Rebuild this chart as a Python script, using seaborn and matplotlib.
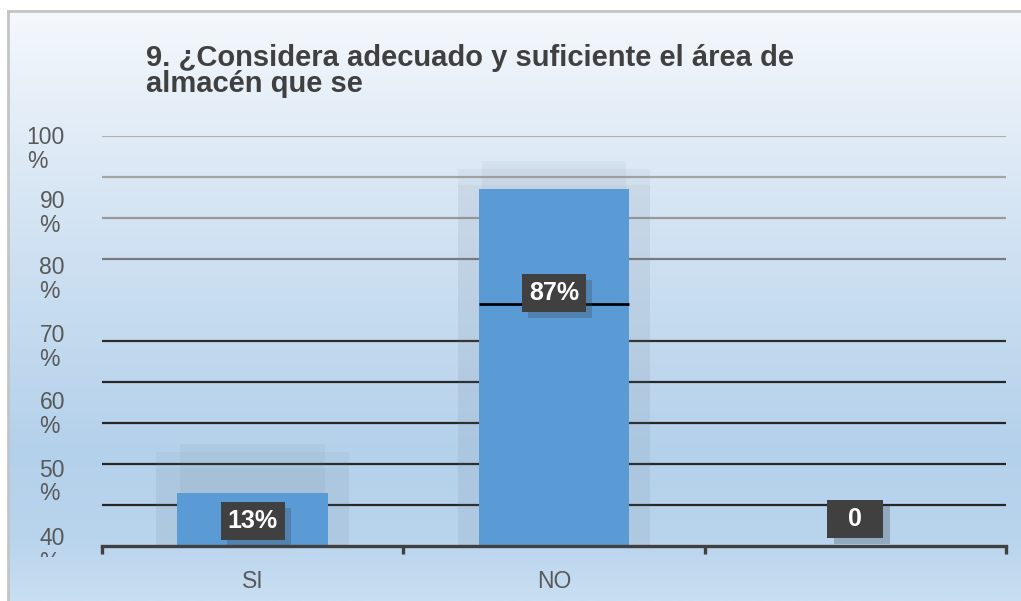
import numpy as np
import pandas as pd
import matplotlib
matplotlib.use("Agg")
import matplotlib.pyplot as plt
import matplotlib.transforms as mtransforms
import matplotlib.patheffects as pe
from matplotlib.transforms import Bbox
import seaborn as sns

# ---- data ----
categories = ["SI", "NO", ""]
values = [13, 87, 0]
value_labels = ["13%", "87%", "0"]
ytick_texts = ["100\n%", "90\n%", "80\n%", "70\n%", "60\n%", "50\n%", "40\n%"]
title = "9. ¿Considera adecuado y suficiente el área de\nalmacén que se"

sns.set_theme(style="white")
plt.rcParams["font.family"] = ["Liberation Sans", "DejaVu Sans"]

W, H = 1021, 601
fig = plt.figure(figsize=(W / 100, H / 100), dpi=100, facecolor="white")

# ---- background gradient panel ----
bg = fig.add_axes([8 / W, 0, 1 - 8 / W, (H - 11) / H], zorder=0)
stops_y = np.array([11, 100, 250, 450, 540, 601])
stops_c = np.array([(245, 248, 252), (230, 239, 248), (207, 225, 242),
                    (180, 209, 235), (185, 212, 237), (201, 223, 242)]) / 255
ys = np.linspace(11, 601, 300)
grad = np.stack([np.interp(ys, stops_y, stops_c[:, k]) for k in range(3)], axis=-1)
bg.imshow(grad[:, None, :], aspect="auto", extent=[0, 1, 0, 1], origin="upper")
bg.set_xlim(0, 1); bg.set_ylim(0, 1)
bg.set_xticks([]); bg.set_yticks([])
for s in ["right", "bottom"]:
    bg.spines[s].set_visible(False)
for s in ["left", "top"]:
    bg.spines[s].set_color("#c4c4c4")
    bg.spines[s].set_linewidth(2)

# ---- main axes ----
ax = fig.add_axes([102 / W, (H - 546) / H, 904 / W, 410 / H], zorder=1)
ax.set_facecolor("none")

# gridlines
grid_vals = [100, 90, 80, 70, 50, 40, 30, 20, 10]
grid_cols = ["#b0b0b0", "#a4a4a4", "#9a9a9a", "#7a7a7a", "#2e2e2e",
             "#262626", "#262626", "#262626", "#262626"]
for gv, gc in zip(grid_vals, grid_cols):
    ax.axhline(gv, color=gc, lw=1.6, zorder=0.5)

# soft shadows behind bars
xpos = np.arange(len(categories))
for x, v in zip(xpos, values):
    if v > 0:
        ext = 12 if v < 50 else 7
        ax.bar(x, v + ext, width=0.64, bottom=-2, color="#6f7f90", alpha=0.07,
               zorder=0.8, linewidth=0)
        ax.bar(x, v + ext, width=0.48, bottom=0, color="#6f7f90", alpha=0.08,
               zorder=0.8, linewidth=0)
        ax.bar(x, v + ext - 6, width=0.64, bottom=0, color="#6f7f90", alpha=0.06,
               zorder=0.8, linewidth=0)

df = pd.DataFrame({"cat": categories, "val": values})
sns.barplot(data=df, x="cat", y="val", color="#5B9BD5", saturation=1,
            width=0.5, ax=ax, zorder=2, linewidth=0, edgecolor="none")
ax.set_xlim(-0.5, len(categories) - 0.5)
ax.set_ylim(0, 100)

# stray line across the tall bar
imax = int(np.argmax(values))
ax.hlines(59, imax - 0.25, imax + 0.25, color="black", lw=2, zorder=3)

# data labels
label_y = [6.1, 61.8, 6.6]
for x, lab, ly in zip(xpos, value_labels, label_y):
    txt = lab if len(lab) > 1 else "  " + lab + "  "
    t = ax.text(x, ly, txt, ha="center", va="center", fontsize=18, fontweight="bold",
                color="white", zorder=4,
                bbox=dict(boxstyle="square,pad=0.28", facecolor="#404040", edgecolor="none"))
    t.get_bbox_patch().set_path_effects([
        pe.SimplePatchShadow(offset=(4.5, -4.5), shadow_rgbFace="#3a4a5a", alpha=0.3),
        pe.Normal()])

# x axis
sns.despine(ax=ax, left=True, top=True, right=True)
ax.spines["bottom"].set_color("#404040")
ax.spines["bottom"].set_linewidth(2.4)
ax.spines["bottom"].set_zorder(5)
ax.set_xticks(xpos)
ax.set_xticklabels(categories, fontsize=16.5, color="#595959")
ax.set_xticks(np.arange(len(categories) + 1) - 0.5, minor=True)
ax.tick_params(axis="x", which="major", length=0, pad=17)
ax.tick_params(axis="x", which="minor", length=6, width=2.4, color="#404040",
               direction="out", bottom=True)
ax.set_xlabel(""); ax.set_ylabel("")
ax.set_yticks([])

# y labels (as drawn in the original, offset from gridlines)
ylab_pos = np.array([96.8, 81.0, 64.9, 48.5, 32.0, 15.6, -1.0])
clip = Bbox.from_extents(0, H - 557, W, H)
ylab_tr = mtransforms.blended_transform_factory(fig.transFigure, ax.transData)
for yp, t in zip(ylab_pos, ytick_texts):
    tt = ax.text(65 / W, yp, t, transform=ylab_tr, ha="right", va="center",
                 multialignment="left", fontsize=16.5, color="#595959",
                 linespacing=1.05, clip_on=True, zorder=5)
    tt.set_clip_box(clip)

# title
fig.text(146 / W, 1 - 44 / H, title, ha="left", va="top", fontsize=21,
         fontweight="bold", color="#404040", linespacing=0.92)

fig.savefig("out.png", dpi=100, facecolor="white")
